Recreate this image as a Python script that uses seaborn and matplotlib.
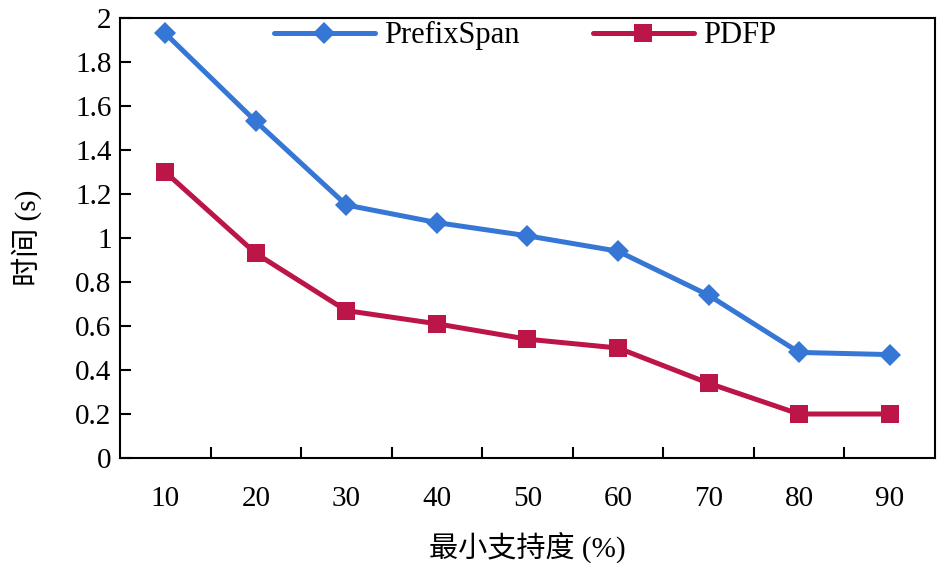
import matplotlib
matplotlib.use("Agg")
import matplotlib.pyplot as plt
import seaborn as sns
import pandas as pd
from matplotlib.ticker import FixedLocator, NullFormatter

categories = ["10", "20", "30", "40", "50", "60", "70", "80", "90"]
prefixspan = [1.93, 1.53, 1.15, 1.07, 1.01, 0.94, 0.74, 0.48, 0.47]
pdfp = [1.30, 0.93, 0.67, 0.61, 0.54, 0.50, 0.34, 0.20, 0.20]
series_names = ["PrefixSpan", "PDFP"]
y_ticks = [0, 0.2, 0.4, 0.6, 0.8, 1, 1.2, 1.4, 1.6, 1.8, 2]
y_tick_labels = ["0", "0.2", "0.4", "0.6", "0.8", "1", "1.2", "1.4", "1.6", "1.8", "2"]

sns.set_theme(style="ticks")
plt.rcParams['font.family'] = ['Liberation Serif', 'Noto Sans CJK SC', 'DejaVu Sans']
plt.rcParams['axes.unicode_minus'] = False
plt.rcParams['text.color'] = 'black'
plt.rcParams['axes.labelcolor'] = 'black'
plt.rcParams['xtick.color'] = 'black'
plt.rcParams['ytick.color'] = 'black'

df = pd.DataFrame({
    "support": categories * 2,
    "time": prefixspan + pdfp,
    "algo": [series_names[0]] * len(categories) + [series_names[1]] * len(categories),
})

fig = plt.figure(figsize=(9.46, 5.63), dpi=100)
ax = fig.add_axes([0.1268, 0.1865, 0.8615, 0.7815])

palette = {"PrefixSpan": "#3677D6", "PDFP": "#BC1548"}
markers = {"PrefixSpan": "D", "PDFP": "s"}
sns.lineplot(data=df, x="support", y="time", hue="algo", style="algo",
             markers=markers, dashes=False, palette=palette, ax=ax,
             linewidth=3.6, markersize=13, markeredgewidth=0, sort=False)

for line in ax.get_lines():
    if line.get_marker() == "D":
        line.set_markersize(11)

ax.set_xlim(-0.5, len(categories) - 0.5)
ax.set_ylim(0, 2)
ax.set_yticks(y_ticks)
ax.set_yticklabels(y_tick_labels)
ax.xaxis.set_minor_locator(FixedLocator([i + 0.5 for i in range(len(categories) - 1)]))
ax.xaxis.set_minor_formatter(NullFormatter())
ax.tick_params(axis="x", which="major", length=0, pad=20, labelsize=21)
ax.tick_params(axis="x", which="minor", direction="in", length=8, width=1.5, color="black")
ax.tick_params(axis="y", which="major", direction="in", length=8, width=1.5, labelsize=21, pad=6, color="black")

for sp in ax.spines.values():
    sp.set_visible(True)
    sp.set_color("black")
    sp.set_linewidth(1.5)

ax.set_xlabel("最小支持度 (%)", fontsize=21, labelpad=14)
ax.set_ylabel("时间 (s)", fontsize=21, labelpad=24)

handles, labels = ax.get_legend_handles_labels()
leg = ax.legend(handles, labels, ncol=2, frameon=False, loc="upper center",
                bbox_to_anchor=(0.497, 1.055), fontsize=22, handlelength=3.3,
                columnspacing=2.4, handletextpad=0.3)

fig.savefig("out.png", dpi=100)
